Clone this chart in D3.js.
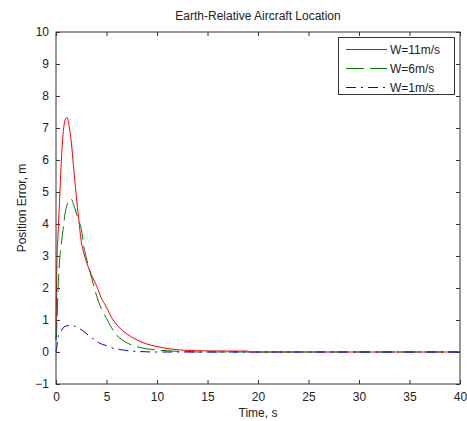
<!DOCTYPE html>
<html><head><meta charset="utf-8">
<script src="https://cdn.jsdelivr.net/npm/d3@7"></script>
<style>body{margin:0;background:#fff;} svg{display:block;font-family:Arial,"Liberation Sans",sans-serif;}</style>
</head><body>
<script>
const times = [0,0.05,0.1,0.2,0.35,0.5,0.7,0.9,1.1,1.3,1.5,1.75,2,2.25,2.5,2.75,3,3.5,4,4.5,5,5.5,6,6.5,7,8,9,10,11,12,13,14,15,17,19,19.1,40];
const red11 = [0.4,2.0,2.9,3.66,4.7,5.8,6.8,7.25,7.33,7.05,6.6,5.75,4.9,4.17,3.45,3.1,2.83,2.42,2.08,1.68,1.40,1.08,0.86,0.69,0.57,0.38,0.25,0.17,0.11,0.07,0.05,0.04,0.035,0.03,0.03,0,0];
const green6 = [0.37,0.6,1.0,1.94,2.85,3.3,3.82,4.33,4.6,4.75,4.78,4.6,4.35,4.1,3.86,3.3,2.95,2.35,1.78,1.34,1.05,0.76,0.53,0.39,0.29,0.17,0.10,0.06,0.04,0.02,0.01,0,0,0,0,0,0];
const blue1 = [0,0.1,0.2,0.45,0.56,0.65,0.75,0.8,0.82,0.83,0.84,0.82,0.78,0.74,0.7,0.64,0.58,0.45,0.34,0.25,0.2,0.13,0.1,0.07,0.045,0.02,0.005,0,0,0,0,0,0,0,0,0,0];
const seriesNames = ["W=11m/s","W=6m/s","W=1m/s"];
const xTicks = [0,5,10,15,20,25,30,35,40];
const yTicks = [-1,0,1,2,3,4,5,6,7,8,9,10];

const W = 467, H = 421;
const m = {l:56, t:32, r:7, b:37};
const svg = d3.select("body").append("svg").attr("width",W).attr("height",H);
const x = d3.scaleLinear().domain([0,40]).range([m.l, W-m.r]);
const y = d3.scaleLinear().domain([-1,10]).range([H-m.b, m.t]);
const axisCol = "#333";

function styleAxis(g){ g.select(".domain").remove(); g.selectAll(".tick line").attr("stroke",axisCol); g.selectAll("text").attr("fill","#222").style("font-size","12px").style("font-family","Arial, 'Liberation Sans', sans-serif"); }
svg.append("g").attr("transform",`translate(0,${y(-1)})`).call(d3.axisBottom(x).tickValues(xTicks).tickSizeInner(-4).tickSizeOuter(0).tickPadding(8)).call(styleAxis);
svg.append("g").attr("transform",`translate(0,${y(10)})`).call(d3.axisTop(x).tickValues(xTicks).tickSizeInner(-4).tickSizeOuter(0).tickFormat("")).call(styleAxis);
svg.append("g").attr("transform",`translate(${x(0)},0)`).call(d3.axisLeft(y).tickValues(yTicks).tickSizeInner(-4).tickSizeOuter(0).tickPadding(7)).call(styleAxis);
svg.append("g").attr("transform",`translate(${x(40)},0)`).call(d3.axisRight(y).tickValues(yTicks).tickSizeInner(-4).tickSizeOuter(0).tickFormat("")).call(styleAxis);

const line = d3.line().x(d=>x(d[0])).y(d=>y(d[1])).curve(d3.curveMonotoneX);
const series = [
  {name:seriesNames[0], vals:red11, color:"#ff0000", dash:null},
  {name:seriesNames[1], vals:green6, color:"#008000", dash:"18,6"},
  {name:seriesNames[2], vals:blue1, color:"#0000ff", dash:"10,5,2,5"}
];
series.forEach(s=>{
  svg.append("path").datum(times.map((t,i)=>[t,s.vals[i]]))
    .attr("d",line).attr("fill","none").attr("stroke",s.color).attr("stroke-width",1)
    .attr("stroke-dasharray",s.dash);
});

svg.append("rect").attr("x",x(0)).attr("y",y(10)).attr("width",x(40)-x(0)).attr("height",y(-1)-y(10))
  .attr("fill","none").attr("stroke",axisCol).attr("stroke-width",1);

svg.append("text").attr("x",(x(0)+x(40))/2).attr("y",20).attr("text-anchor","middle").style("font-size","12px").attr("fill","#222").text("Earth-Relative Aircraft Location");
svg.append("text").attr("x",(x(0)+x(40))/2).attr("y",417).attr("text-anchor","middle").style("font-size","12px").attr("fill","#222").text("Time, s");
svg.append("text").attr("transform",`translate(26,${(y(-1)+y(10))/2}) rotate(-90)`).attr("text-anchor","middle").style("font-size","12px").attr("fill","#222").text("Position Error, m");

const lg = svg.append("g");
lg.append("rect").attr("x",338.5).attr("y",37.5).attr("width",116).attr("height",57).attr("fill","#fff").attr("stroke",axisCol);
series.forEach((s,i)=>{
  const yy = 49.5 + i*19;
  lg.append("line").attr("x1",346).attr("x2",387).attr("y1",yy).attr("y2",yy).attr("stroke",s.color).attr("stroke-dasharray",s.dash);
  lg.append("text").attr("x",390).attr("y",yy+4.5).style("font-size","12px").attr("fill","#222").text(s.name);
});
</script>
</body></html>
